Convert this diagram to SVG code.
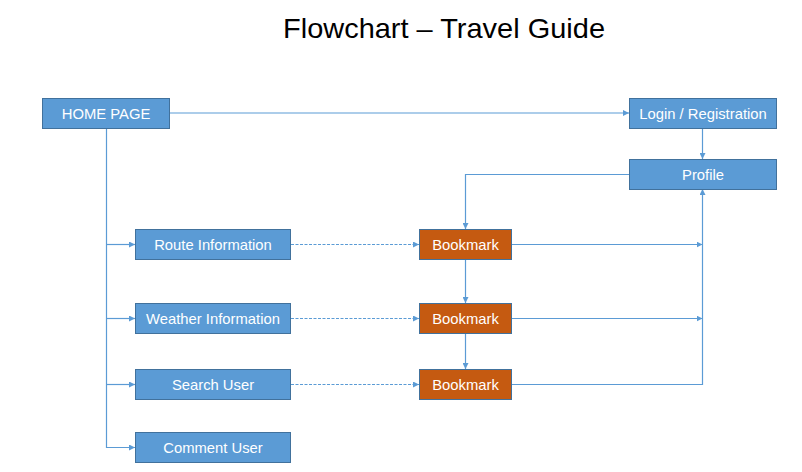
<svg xmlns="http://www.w3.org/2000/svg" width="802" height="472" viewBox="0 0 802 472">
<style>
.box{fill:#5B9BD5;stroke:#41719C;stroke-width:1}
.bm{fill:#C55A11;stroke:#41719C;stroke-width:1}
.lbl{fill:#FFFFFF;font-family:"Liberation Sans","Open Sans",Arial,sans-serif;font-size:14.8px;text-anchor:middle}
.ln{fill:none;stroke:#5B9BD5;stroke-width:1.2}
.dash{stroke-dasharray:3,1.5}
.title{fill:#000000;font-family:"Liberation Sans","Open Sans",Arial,sans-serif;font-size:28px;text-anchor:middle}
</style>
<defs>
<marker id="ah" viewBox="0 0 10 10" refX="10" refY="5" markerWidth="6" markerHeight="6" markerUnits="userSpaceOnUse" orient="auto">
<path d="M0,0 L10,5 L0,10 z" fill="#5B9BD5"/>
</marker>
</defs>
<rect width="802" height="472" fill="#FFFFFF"/>
<text class="title" x="444" y="38" textLength="322" lengthAdjust="spacingAndGlyphs">Flowchart – Travel Guide</text>
<g id="connectors">
<path class="ln" d="M169,113 H629" marker-end="url(#ah)"/>
<path class="ln" d="M702.5,128 V159" marker-end="url(#ah)"/>
<path class="ln" d="M106.5,128 V447.5 H135" marker-end="url(#ah)"/>
<path class="ln" d="M106.5,244.5 H135" marker-end="url(#ah)"/>
<path class="ln" d="M106.5,318.5 H135" marker-end="url(#ah)"/>
<path class="ln" d="M106.5,384.5 H135" marker-end="url(#ah)"/>
<path class="ln dash" d="M291,244.5 H419" marker-end="url(#ah)"/>
<path class="ln dash" d="M291,318.5 H419" marker-end="url(#ah)"/>
<path class="ln dash" d="M291,384.5 H419" marker-end="url(#ah)"/>
<path class="ln" d="M629,174.5 H465.5 V229" marker-end="url(#ah)"/>
<path class="ln" d="M465.5,259 V303" marker-end="url(#ah)"/>
<path class="ln" d="M465.5,333 V369" marker-end="url(#ah)"/>
<path class="ln" d="M511,244.5 H702.5" marker-end="url(#ah)"/>
<path class="ln" d="M511,318.5 H702.5" marker-end="url(#ah)"/>
<path class="ln" d="M511,384.5 H702.5 V189" marker-end="url(#ah)"/>
</g>
<g id="home"><rect class="box" x="42.5" y="98.5" width="127" height="30"/><text class="lbl" x="106" y="118.5">HOME PAGE</text></g>
<g id="login"><rect class="box" x="629.5" y="98.5" width="147" height="30"/><text class="lbl" x="703" y="118.5">Login / Registration</text></g>
<g id="profile"><rect class="box" x="629.5" y="159.5" width="147" height="30"/><text class="lbl" x="703" y="179.5">Profile</text></g>
<g id="route"><rect class="box" x="135.5" y="229.5" width="155" height="30"/><text class="lbl" x="213" y="249.5">Route Information</text></g>
<g id="weather"><rect class="box" x="135.5" y="303.5" width="155" height="30"/><text class="lbl" x="213" y="323.5">Weather Information</text></g>
<g id="search"><rect class="box" x="135.5" y="369.5" width="155" height="30"/><text class="lbl" x="213" y="389.5">Search User</text></g>
<g id="comment"><rect class="box" x="135.5" y="432.5" width="155" height="30"/><text class="lbl" x="213" y="452.5">Comment User</text></g>
<g id="bookmark1"><rect class="bm" x="419.5" y="229.5" width="92" height="30"/><text class="lbl" x="465.5" y="249.5">Bookmark</text></g>
<g id="bookmark2"><rect class="bm" x="419.5" y="303.5" width="92" height="30"/><text class="lbl" x="465.5" y="323.5">Bookmark</text></g>
<g id="bookmark3"><rect class="bm" x="419.5" y="369.5" width="92" height="30"/><text class="lbl" x="465.5" y="389.5">Bookmark</text></g>
</svg>
